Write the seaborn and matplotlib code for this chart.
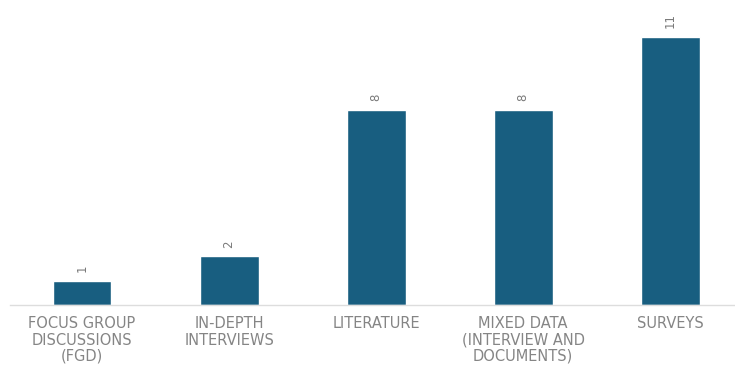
import matplotlib
matplotlib.use("Agg")
import matplotlib.pyplot as plt
import seaborn as sns
import pandas as pd

categories = ["FOCUS GROUP\nDISCUSSIONS\n(FGD)", "IN-DEPTH\nINTERVIEWS", "LITERATURE",
              "MIXED DATA\n(INTERVIEW AND\nDOCUMENTS)", "SURVEYS"]
counts = [1, 2, 8, 8, 11]

df = pd.DataFrame({"category": categories, "count": counts})

sns.set_theme(style="white")
plt.rcParams['font.family'] = ['DejaVu Sans']

fig = plt.figure(figsize=(7.35, 3.65), dpi=100)
ax = fig.add_axes([10/735, 60/365, 725/735, 300/365])

bar_color = "#185E80"
sns.barplot(data=df, x="category", y="count", color=bar_color, width=0.4,
            saturation=1, ax=ax)

for i, v in enumerate(counts):
    ax.text(i, v + 0.35, str(v), rotation=90, ha="center", va="bottom",
            fontsize=8.5, color="#7a7a7a")

ax.set_xlim(-0.49, 4.44)
ax.set_ylim(0, 12.3)
ax.set_xlabel("")
ax.set_ylabel("")
ax.set_yticks([])
ax.tick_params(axis="x", length=0, pad=8)
for lab in ax.get_xticklabels():
    lab.set_fontsize(10.5)
    lab.set_color("#858585")
    lab.set_linespacing(1.12)
for s in ["top", "right", "left"]:
    ax.spines[s].set_visible(False)
ax.spines["bottom"].set_color("#dddddd")
ax.spines["bottom"].set_linewidth(1)

fig.savefig("out.png", dpi=100)
